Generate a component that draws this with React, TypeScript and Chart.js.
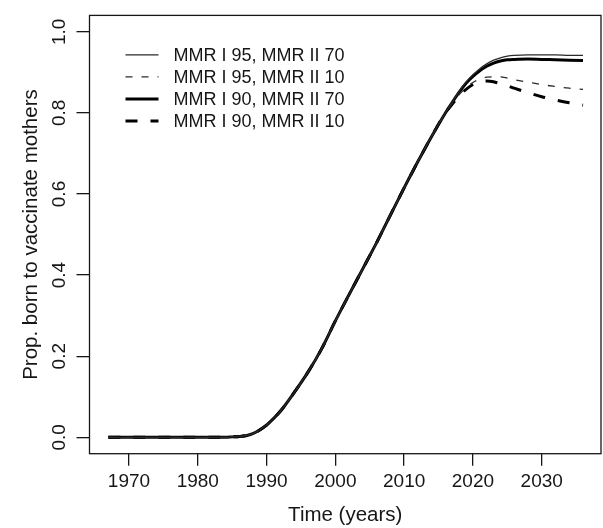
import React, { useEffect, useRef } from "react";
import { Chart, registerables } from "chart.js";

Chart.register(...registerables);

// ---- data ----
const baseYears = [1967, 1970, 1975, 1980, 1984, 1985, 1986, 1987, 1988, 1989, 1990, 1991, 1992, 1994, 1996, 1998, 2000, 2002, 2004, 2006, 2008, 2010, 2012, 2014, 2016];
const baseValues = [0, 0, 0, 0, 0, 0.001, 0.002, 0.004, 0.009, 0.018, 0.03, 0.046, 0.064, 0.11, 0.16, 0.218, 0.287, 0.352, 0.416, 0.48, 0.548, 0.615, 0.68, 0.742, 0.8];

const tailYears = [2017, 2018, 2019, 2020, 2021, 2022, 2023, 2024, 2025, 2026, 2028, 2030, 2032, 2034, 2036];
const tailI95II70 = [0.826, 0.853, 0.876, 0.894, 0.909, 0.921, 0.93, 0.936, 0.94, 0.942, 0.943, 0.943, 0.943, 0.942, 0.942];
const tailI95II10 = [0.824, 0.845, 0.862, 0.875, 0.883, 0.888, 0.889, 0.889, 0.886, 0.882, 0.876, 0.87, 0.865, 0.861, 0.858];
const tailI90II70 = [0.826, 0.851, 0.873, 0.89, 0.904, 0.915, 0.923, 0.928, 0.931, 0.932, 0.933, 0.932, 0.931, 0.93, 0.929];
const tailI90II10 = [0.822, 0.842, 0.858, 0.87, 0.877, 0.879, 0.877, 0.872, 0.867, 0.861, 0.85, 0.84, 0.832, 0.825, 0.819];

const seriesLabels = ["MMR I 95, MMR II 70", "MMR I 95, MMR II 10", "MMR I 90, MMR II 70", "MMR I 90, MMR II 10"];

const xTicks = [1970, 1980, 1990, 2000, 2010, 2020, 2030];
const yTicks = [0, 0.2, 0.4, 0.6, 0.8, 1.0];

const xTitle = "Time (years)";
const yTitle = "Prop. born to vaccinate mothers";

const FONT = "'Liberation Sans', Arial, Helvetica, sans-serif";
const INK = "#161616";

function toPoints(tail: number[]) {
  const xs = baseYears.concat(tailYears);
  const ys = baseValues.concat(tail);
  return xs.map((x, i) => ({ x, y: ys[i] }));
}

const styles = [
  { borderWidth: 1.3, borderDash: [] as number[], borderColor: "#2a2a2a" },
  { borderWidth: 1.3, borderDash: [7, 9], borderColor: "#2a2a2a" },
  { borderWidth: 3, borderDash: [] as number[], borderColor: "#000" },
  { borderWidth: 3, borderDash: [12, 13], borderColor: "#000" },
];

const boxAndLegend = {
  id: "boxAndLegend",
  afterDatasetsDraw(chart: any) {
    const { ctx, chartArea } = chart;
    ctx.save();
    ctx.strokeStyle = INK;
    ctx.lineWidth = 1.3;
    ctx.setLineDash([]);
    ctx.strokeRect(chartArea.left, chartArea.top, chartArea.right - chartArea.left, chartArea.bottom - chartArea.top);

    // legend (R style, inside top-left, no box)
    const x0 = chartArea.left + 36;
    const x1 = chartArea.left + 69;
    const tx = chartArea.left + 84;
    const y0 = chartArea.top + 39.5;
    const dy = 22;
    ctx.font = `18px ${FONT}`;
    ctx.textBaseline = "middle";
    ctx.textAlign = "left";
    chart.data.datasets.forEach((ds: any, i: number) => {
      const y = y0 + i * dy;
      ctx.beginPath();
      ctx.setLineDash(ds.borderDash || []);
      ctx.lineWidth = ds.borderWidth;
      ctx.strokeStyle = ds.borderColor;
      ctx.moveTo(x0, y);
      ctx.lineTo(x1, y);
      ctx.stroke();
      ctx.setLineDash([]);
      ctx.fillStyle = INK;
      ctx.fillText(ds.label, tx, y + 1);
    });
    ctx.restore();
  },
};

export default function App() {
  const ref = useRef<HTMLCanvasElement | null>(null);

  useEffect(() => {
    if (!ref.current) return;
    const tails = [tailI95II70, tailI95II10, tailI90II70, tailI90II10];
    const chart = new Chart(ref.current, {
      type: "line",
      data: {
        datasets: tails.map((t, i) => ({
          label: seriesLabels[i],
          data: toPoints(t),
          borderColor: styles[i].borderColor,
          borderWidth: styles[i].borderWidth,
          borderDash: styles[i].borderDash,
          pointRadius: 0,
          fill: false,
          cubicInterpolationMode: "monotone" as const,
          borderCapStyle: "butt" as const,
        })),
      },
      options: {
        animation: false,
        responsive: false,
        maintainAspectRatio: false,
        layout: { padding: { top: 14.5, right: 2, left: 0, bottom: 0 } },
        plugins: { legend: { display: false }, tooltip: { enabled: false } },
        scales: {
          x: {
            type: "linear",
            min: 1964.26,
            max: 2038.62,
            afterBuildTicks: (s: any) => {
              s.ticks = xTicks.map((v) => ({ value: v }));
            },
            afterFit: (s: any) => {
              s.height = 74.3;
            },
            border: { display: false },
            grid: { drawOnChartArea: false, drawTicks: true, tickLength: 12, color: INK, lineWidth: 1.3 },
            ticks: {
              padding: 4.5,
              color: INK,
              autoSkip: false,
              maxRotation: 0,
              font: { family: FONT, size: 19 },
              callback: (v: any) => String(v),
            },
            title: {
              display: true,
              text: xTitle,
              color: INK,
              font: { family: FONT, size: 20.5 },
              padding: { top: 0, bottom: 0 },
            },
          },
          y: {
            type: "linear",
            min: -0.0405,
            max: 1.0405,
            afterBuildTicks: (s: any) => {
              s.ticks = yTicks.map((v) => ({ value: v }));
            },
            afterFit: (s: any) => {
              s.width = 89.5;
            },
            border: { display: false },
            grid: { drawOnChartArea: false, drawTicks: true, tickLength: 13, color: INK, lineWidth: 1.3 },
            ticks: {
              padding: 4,
              color: INK,
              minRotation: 90,
              maxRotation: 90,
              crossAlign: "center",
              font: { family: FONT, size: 19 },
              callback: (v: any) => Number(v).toFixed(1),
            },
            title: {
              display: true,
              text: yTitle,
              color: INK,
              font: { family: FONT, size: 20.5 },
              padding: { top: 19, bottom: 0 },
            },
          },
        },
      },
      plugins: [boxAndLegend],
    });
    return () => chart.destroy();
  }, []);

  return (
    <div style={{ position: "fixed", left: 0, top: 0, width: 603, height: 528, background: "#fff" }}>
      <canvas ref={ref} width={603} height={528} style={{ display: "block" }} />
    </div>
  );
}
